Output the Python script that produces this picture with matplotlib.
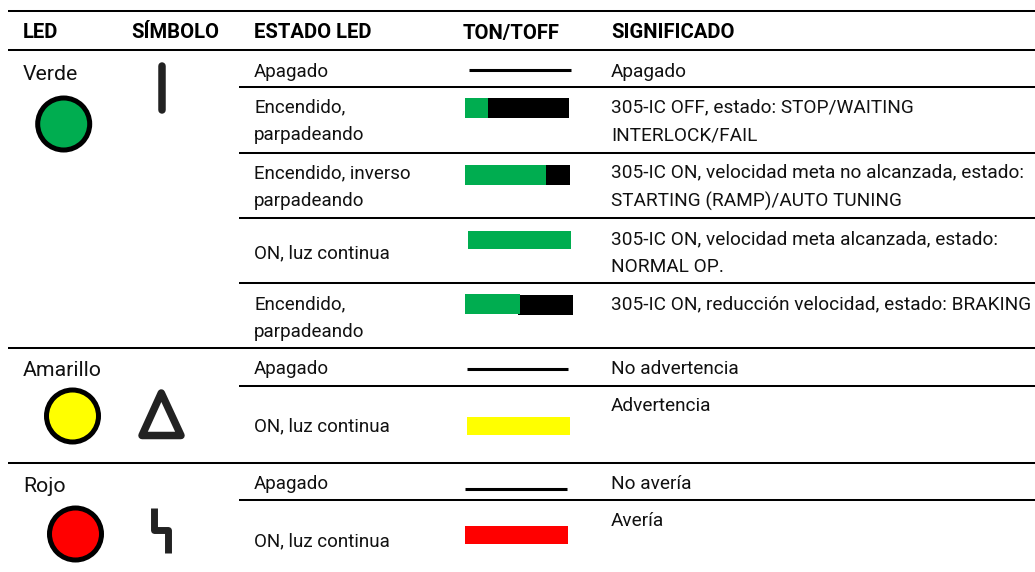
import matplotlib
matplotlib.use("Agg")
import matplotlib.pyplot as plt
from matplotlib.patches import Rectangle, Circle, Polygon

plt.rcParams['font.family'] = ['Roboto', 'DejaVu Sans']

W = 1035
H = 572

headers = ["LED", "SÍMBOLO", "ESTADO LED", "TON/TOFF", "SIGNIFICADO"]
led_names = ["Verde", "Amarillo", "Rojo"]
led_colors = ["#00ad50", "#ffff00", "#ff0000"]
states = ["Apagado", "Encendido,\nparpadeando", "Encendido, inverso\nparpadeando",
          "ON, luz continua", "Encendido,\nparpadeando", "Apagado", "ON, luz continua",
          "Apagado", "ON, luz continua"]
meanings = ["Apagado", "305-IC OFF, estado: STOP/WAITING\nINTERLOCK/FAIL",
            "305-IC ON, velocidad meta no alcanzada, estado:\nSTARTING (RAMP)/AUTO TUNING",
            "305-IC ON, velocidad meta alcanzada, estado:\nNORMAL OP.",
            "305-IC ON, reducción velocidad, estado: BRAKING",
            "No advertencia", "Advertencia", "No avería", "Avería"]

fig = plt.figure(figsize=(W / 100, H / 100), dpi=100)
ax = fig.add_axes([0, 0, 1, 1])
ax.set_xlim(0, W)
ax.set_ylim(H, 0)
ax.axis("off")

GREEN = led_colors[0]
INK = "#222222"

# rules
for y in [11, 50, 347.7, 462.7]:
    ax.plot([8, W], [y, y], color="black", lw=1.45, solid_capstyle="butt")
for y in [86.7, 152.7, 217.7, 282.7, 385.7, 499.7]:
    ax.plot([239, W], [y, y], color="black", lw=1.45, solid_capstyle="butt")

# header
for x, t in zip([23, 131, 254, 463, 611], headers):
    ax.text(x, 33, t, fontsize=14.6, fontweight="bold", va="center", ha="left")

# led names
for y, t in zip([74, 371, 486], led_names):
    ax.text(23, y, t, fontsize=15.3, va="center", ha="left", color="#111111")

# led circles
for (cx, cy), c in zip([(63.7, 124), (72.5, 416), (75.5, 534)], led_colors):
    ax.add_patch(Circle((cx, cy), 26, facecolor=c, edgecolor="black", lw=3.6))

# symbols
ax.plot([161.5, 161.5], [66, 110], color=INK, lw=5.4, solid_capstyle="round")
ax.add_patch(Polygon([[161.3, 393], [142, 435.5], [181, 435.5]], closed=True, fill=False,
                     edgecolor=INK, lw=5.4, joinstyle="round"))
ax.plot([154.3, 154.3, 168, 168], [508, 530, 530, 553], color=INK, lw=5,
        solid_joinstyle="round", solid_capstyle="butt")

# states and meanings
state_y = [72, 121, 187, 253, 318, 369, 426, 484, 541]
mean_y = [72, 121, 187, 253, 304, 369, 406, 484, 521]
for y, t in zip(state_y, states):
    ax.text(254, y, t, fontsize=13.5, va="center", ha="left", linespacing=1.72, color="#111111")
for y, t in zip(mean_y, meanings):
    ax.text(611, y, t, fontsize=13.7, va="center", ha="left", linespacing=1.72, color="#111111")

# ton/toff lines
for x0, x1, y in [(469, 570.7, 70), (467, 568, 368.7), (465, 566.5, 489)]:
    ax.plot([x0, x1], [y, y], color="black", lw=2.2, solid_capstyle="butt")

# ton/toff bars: x, y, w, h, colour
bars = [(488, 98, 81, 20, "black"), (465, 98, 23, 20, GREEN),
        (546, 165, 24, 20, "black"), (465, 165, 81, 20, GREEN),
        (468, 231, 103, 18, GREEN),
        (518, 295, 55, 20, "black"), (465, 294, 55, 20, GREEN),
        (467, 417, 103, 18, "#ffff00"), (465, 526, 103, 18, "#ff0000")]
for x, y, w, h, c in bars:
    ax.add_patch(Rectangle((x, y), w, h, facecolor=c, edgecolor="none"))

fig.savefig("out.png", dpi=100)
